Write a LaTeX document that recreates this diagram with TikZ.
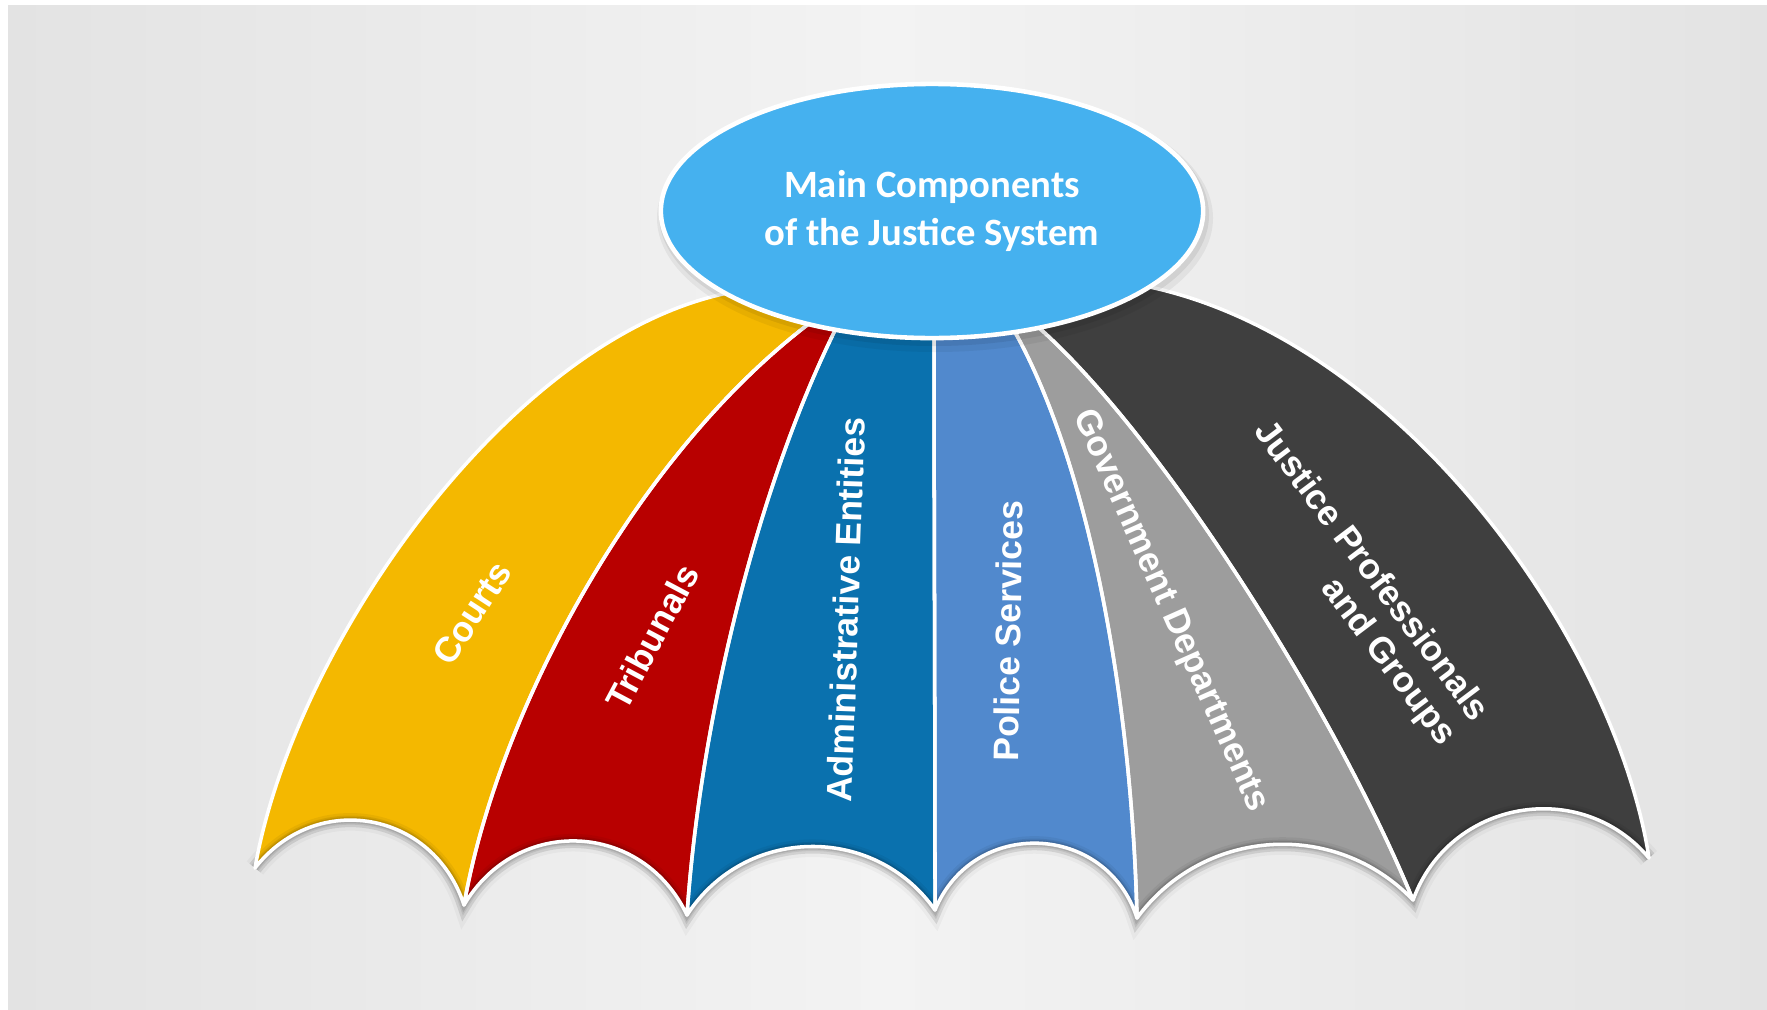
\documentclass[tikz,border=0pt]{standalone}
\usepackage{fontspec}
\setmainfont{Liberation Sans}
\newfontfamily\calibri{Carlito}
\usetikzlibrary{shapes.geometric,calc}

\definecolor{bgedge}{HTML}{E3E3E3}
\definecolor{bgmid}{HTML}{F3F3F3}
\definecolor{hubblue}{HTML}{45B1EF}
\definecolor{courtsY}{HTML}{F4B800}
\definecolor{tribR}{HTML}{B80000}
\definecolor{adminB}{HTML}{0A71AE}
\definecolor{policeB}{HTML}{5189CD}
\definecolor{govG}{HTML}{9D9D9D}
\definecolor{justD}{HTML}{3F3F3F}

\newcommand\umbscal[4]{.. controls ($(#1)!#3!#4:(#2)$) and ($(#2)!#3!-#4:(#1)$) .. (#2)}
\newcommand\ribup[1]{.. controls (ra#1) and (rb#1) .. (H#1)}
\newcommand\ribdn[1]{.. controls (rb#1) and (ra#1) .. (T#1)}

\newcommand\panelA{(T0) \umbscal{T0}{T1}{0.467}{62} \ribup{1} -- (H0) \ribdn{0} -- cycle}
\newcommand\panelB{(T1) \umbscal{T1}{T2}{0.467}{62} \ribup{2} -- (H1) \ribdn{1} -- cycle}
\newcommand\panelC{(T2) \umbscal{T2}{T3}{0.428}{56} \ribup{3} -- (H2) \ribdn{2} -- cycle}
\newcommand\panelD{(T3) \umbscal{T3}{T4}{0.497}{70} \ribup{4} -- (H3) \ribdn{3} -- cycle}
\newcommand\panelE{(T4) \umbscal{T4}{T5}{0.406}{50} \ribup{5} -- (H4) \ribdn{4} -- cycle}
\newcommand\panelF{(T5) \umbscal{T5}{T6}{0.444}{60} \ribup{6} -- (H5) \ribdn{5} -- cycle}
\newcommand\scalline{(T0) \umbscal{T0}{T1}{0.467}{62} \umbscal{T1}{T2}{0.467}{62} \umbscal{T2}{T3}{0.428}{56} \umbscal{T3}{T4}{0.497}{70} \umbscal{T4}{T5}{0.406}{50} \umbscal{T5}{T6}{0.444}{60}}

\begin{document}
\begin{tikzpicture}[x=0.01cm, y=-0.01cm,
  lbl/.style={text=white, font=\fontsize{10.1}{11.6}\selectfont\bfseries, inner sep=0pt},
  rim/.style={draw=white, line width=1pt, line join=round}]
\useasboundingbox (0,0) rectangle (1767,1009);
\fill[white] (0,0) rectangle (1767,1009);
\shade[left color=bgedge, right color=bgedge, middle color=bgmid] (8,5) rectangle (1767,1009);

% bottom tips
\coordinate (T0) at (255,868);
\coordinate (T1) at (464,905);
\coordinate (T2) at (687,915);
\coordinate (T3) at (935,910);
\coordinate (T4) at (1137,918);
\coordinate (T5) at (1413,900);
\coordinate (T6) at (1649,858);
% rib tops (under the ellipse)
\coordinate (H0) at (745,290);
\coordinate (H1) at (835,305);
\coordinate (H2) at (848,305);
\coordinate (H3) at (934,315);
\coordinate (H4) at (1005,315);
\coordinate (H5) at (1030,320);
\coordinate (H6) at (1140,285);
% rib controls
\coordinate (ra0) at (295,640);  \coordinate (rb0) at (520,322);
\coordinate (ra1) at (500,700);  \coordinate (rb1) at (650,430);
\coordinate (ra2) at (700,720);  \coordinate (rb2) at (760,470);
\coordinate (ra3) at (935,700);  \coordinate (rb3) at (934,500);
\coordinate (ra4) at (1132,700); \coordinate (rb4) at (1088,450);
\coordinate (ra5) at (1335,710); \coordinate (rb5) at (1155,425);
\coordinate (ra6) at (1615,640); \coordinate (rb6) at (1400,335);

% soft shadow under the canopy
\foreach \w/\o in {6pt/0.03,4pt/0.05}{
  \draw[black, opacity=\o, line width=\w, yshift=-1pt] \scalline;
}
% panels
\fill[courtsY] \panelA;
\fill[tribR] \panelB;
\fill[adminB] \panelC;
\fill[policeB] \panelD;
\fill[govG] \panelE;
\fill[justD] \panelF;
% inner shade along the hems
\foreach \w/\o in {4pt/0.05,2.6pt/0.08,1.8pt/0.1}{
  \draw[black, opacity=\o, line width=\w] \scalline;
}
% white seams
\draw[rim] \panelA;
\draw[rim] \panelB;
\draw[rim] \panelC;
\draw[rim] \panelD;
\draw[rim] \panelE;
\draw[rim] \panelF;

% labels
\node[lbl, rotate=57] (courts) at (472,613) {Courts};
\node[lbl, rotate=62] (trib) at (652,637) {Tribunals};
\node[lbl, rotate=88] (admin) at (846,610) {Administrative Entities};
\node[lbl, rotate=89] (police) at (1008,631) {Police Services};
\node[lbl, rotate=-66] (gov) at (1170,611) {Government Departments};
\node[lbl, rotate=-53, align=right] (just) at (1354,584) {Justice Professionals\\and Groups};

% central ellipse
\fill[black, opacity=0.05] (935,218) ellipse (278 and 134);
\fill[black, opacity=0.07] (934,215) ellipse (275 and 131);
\node[ellipse, fill=hubblue, draw=white, line width=1.3pt,
      minimum width=5.42cm, minimum height=2.54cm, inner sep=0pt,
      text=white, align=center,
      font=\calibri\bfseries\fontsize{11}{13.6}\selectfont] (hub) at (932,211)
      {Main Components\\of the Justice System};
\end{tikzpicture}
\end{document}
